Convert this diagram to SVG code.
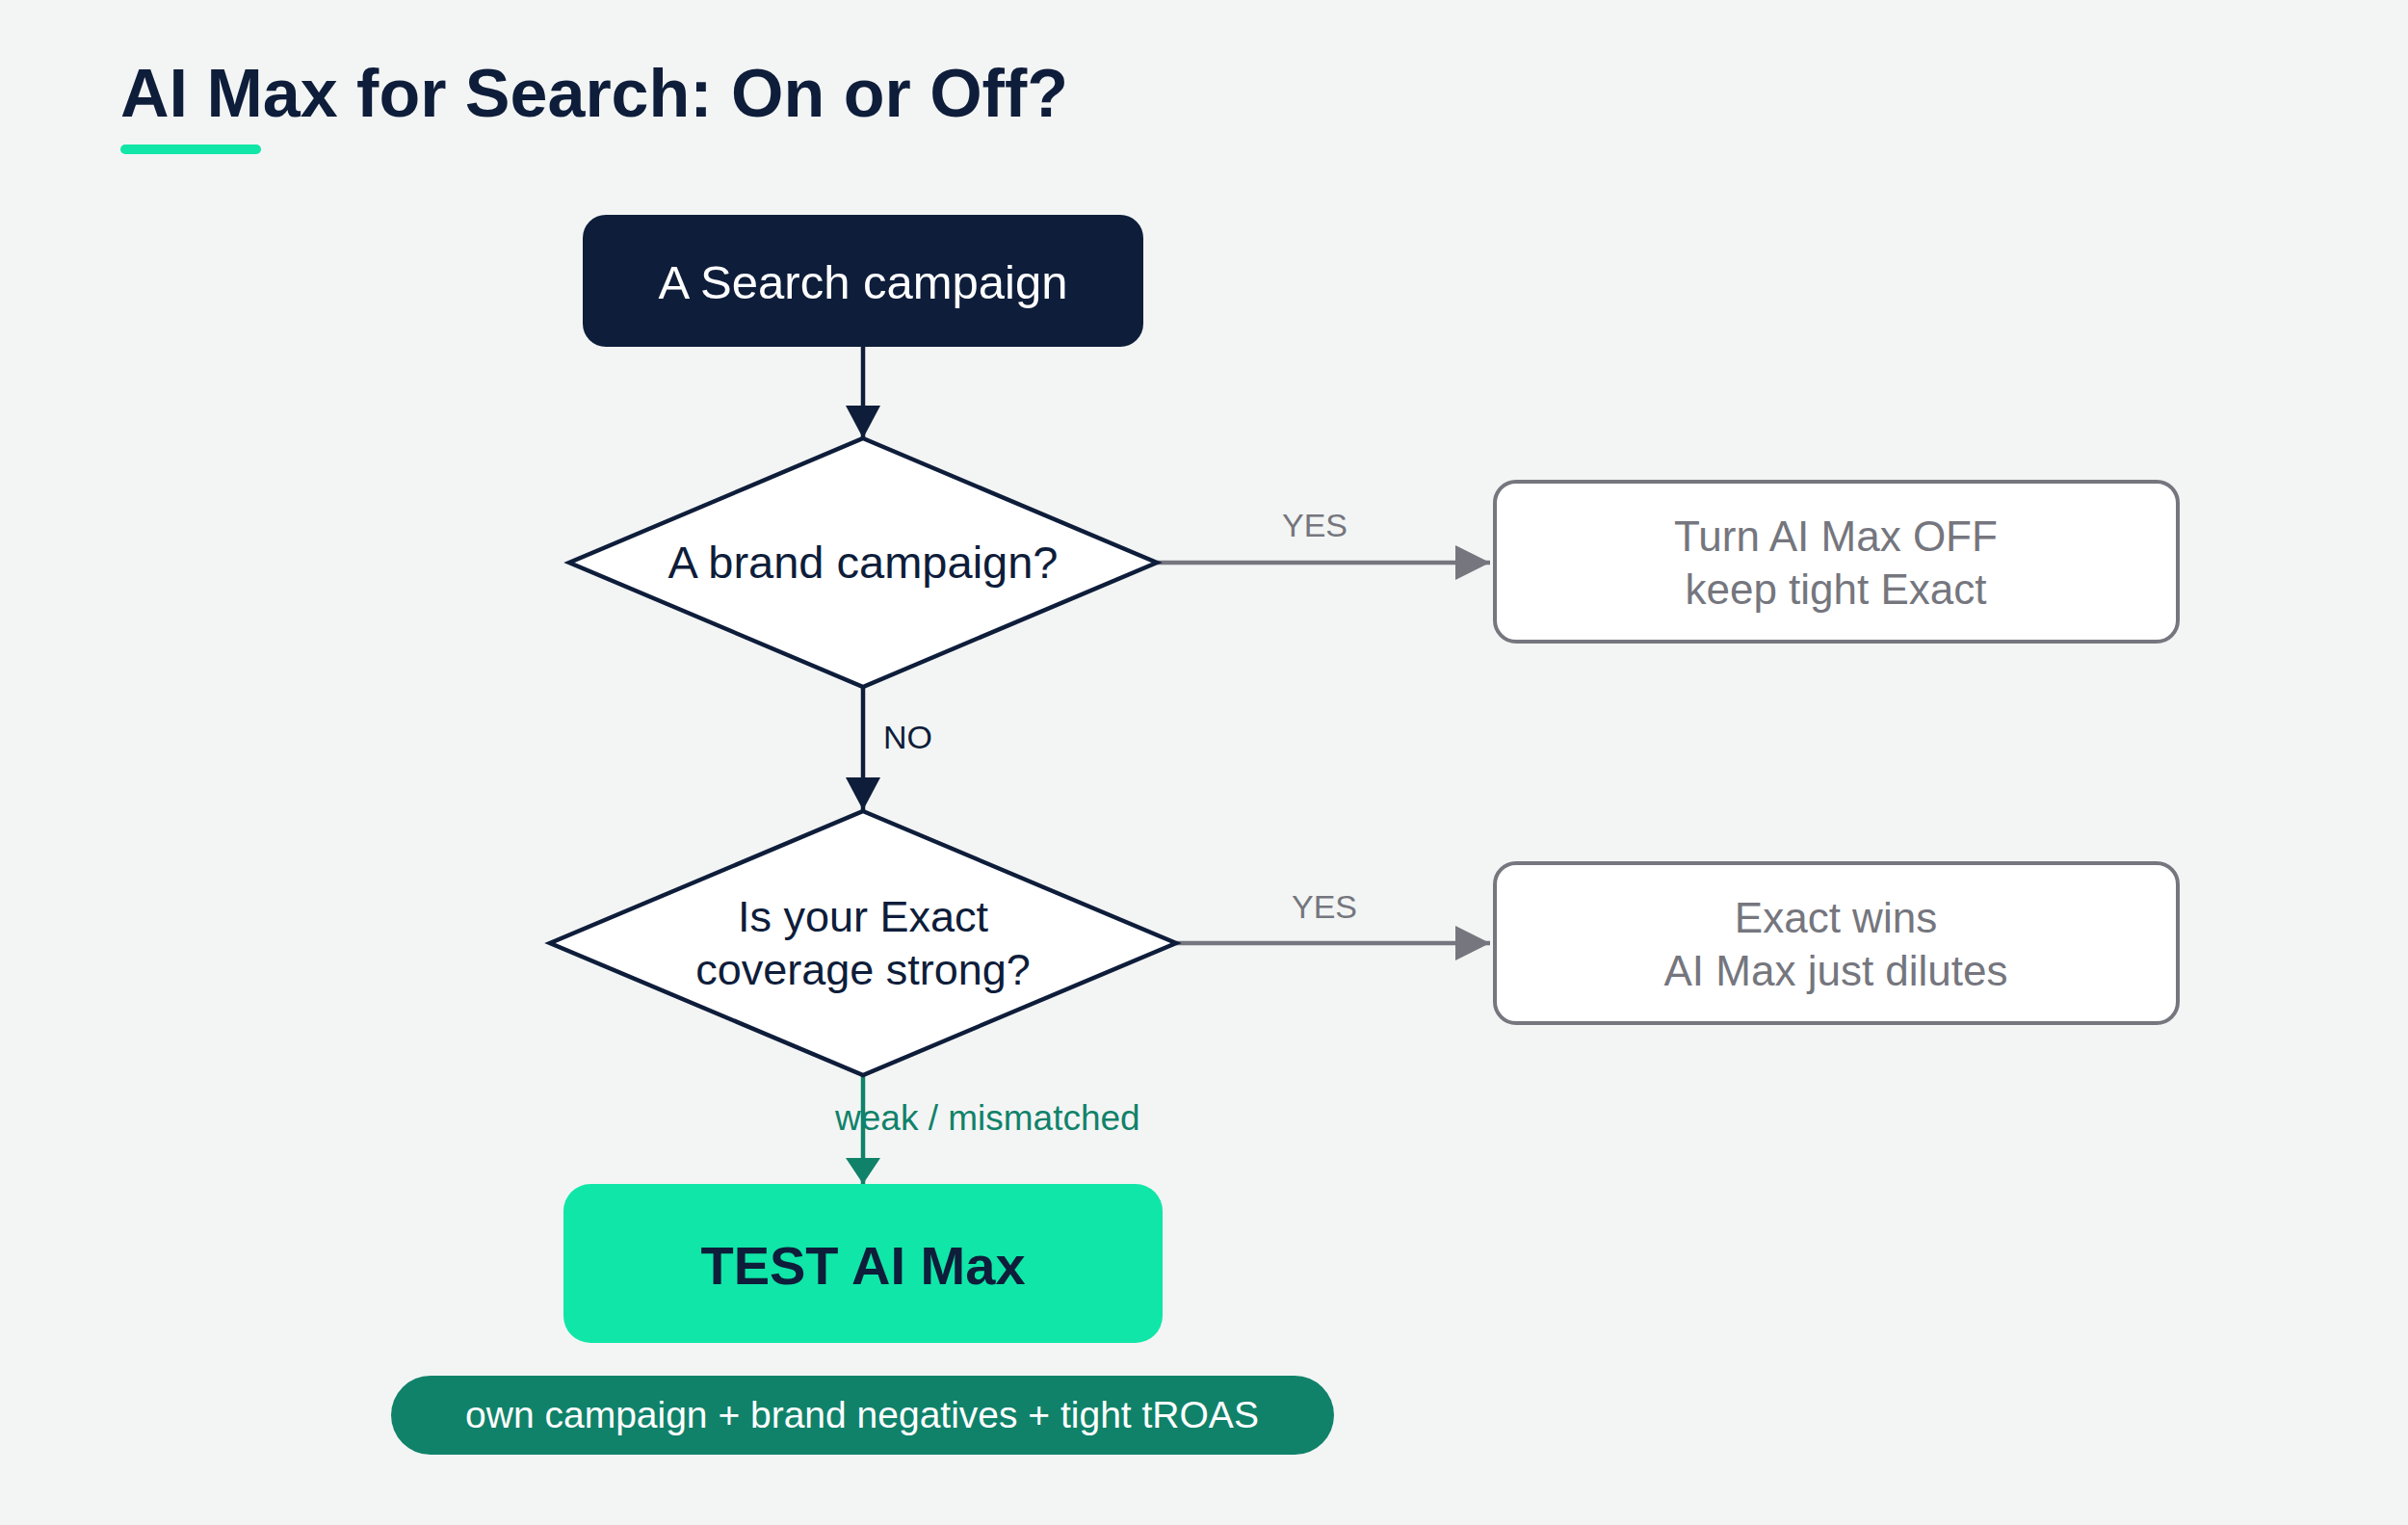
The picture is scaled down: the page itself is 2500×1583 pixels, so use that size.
<svg xmlns="http://www.w3.org/2000/svg" width="2500" height="1583" viewBox="0 0 2500 1583">
  <style>
    text { font-family: "Liberation Sans", Arial, Helvetica, sans-serif; }
    .navy { fill: #0e1d3a; }
    .gray { fill: #75767e; }
    .dia { fill: #ffffff; stroke: #0e1d3a; stroke-width: 4.5; stroke-linejoin: miter; }
    .out { fill: #ffffff; stroke: #75767e; stroke-width: 4; }
    .c-navy { stroke: #0e1d3a; stroke-width: 4.5; fill: none; }
    .c-gray { stroke: #75767e; stroke-width: 4.5; fill: none; }
    .c-green { stroke: #10826a; stroke-width: 4.5; fill: none; }
  </style>
  <defs>
    <marker id="ah-navy" markerUnits="userSpaceOnUse" markerWidth="36" markerHeight="36" refX="34" refY="18" orient="auto">
      <path d="M0,0 L34,18 L0,36 Z" fill="#0e1d3a"/>
    </marker>
    <marker id="ah-gray" markerUnits="userSpaceOnUse" markerWidth="36" markerHeight="36" refX="36" refY="18" orient="auto">
      <path d="M0,0 L36,18 L0,36 Z" fill="#75767e"/>
    </marker>
    <marker id="ah-green" markerUnits="userSpaceOnUse" markerWidth="36" markerHeight="36" refX="27" refY="18" orient="auto">
      <path d="M0,0 L27,18 L0,36 Z" fill="#10826a"/>
    </marker>
  </defs>

  <rect x="0" y="0" width="2500" height="1583" fill="#f3f5f4"/>

  <g id="title">
    <text x="125" y="121" font-size="70" font-weight="bold" class="navy">AI Max for Search: On or Off?</text>
    <rect x="125" y="150" width="146" height="10" rx="5" fill="#10e6a8"/>
  </g>

  <g id="connectors">
    <line x1="896" y1="360" x2="896" y2="455" class="c-navy" marker-end="url(#ah-navy)"/>
    <line x1="1201" y1="584" x2="1547" y2="584" class="c-gray" marker-end="url(#ah-gray)"/>
    <text x="1365" y="557" font-size="34" text-anchor="middle" class="gray">YES</text>
    <line x1="896" y1="713" x2="896" y2="841" class="c-navy" marker-end="url(#ah-navy)"/>
    <text x="917" y="777" font-size="34" class="navy">NO</text>
    <line x1="1221" y1="979" x2="1547" y2="979" class="c-gray" marker-end="url(#ah-gray)"/>
    <text x="1375" y="953" font-size="34" text-anchor="middle" class="gray">YES</text>
    <line x1="896" y1="1116" x2="896" y2="1229" class="c-green" marker-end="url(#ah-green)"/>
    <text x="867" y="1173" font-size="37" fill="#10826a">weak / mismatched</text>
  </g>

  <g id="start">
    <rect x="605" y="223" width="582" height="137" rx="24" fill="#0e1d3a"/>
    <text x="896" y="310" font-size="49" text-anchor="middle" fill="#ffffff">A Search campaign</text>
  </g>

  <g id="brand-decision">
    <polygon points="896,455 1201,584 896,713 591,584" class="dia"/>
    <text x="896" y="600" font-size="47" text-anchor="middle" class="navy">A brand campaign?</text>
  </g>

  <g id="turn-off">
    <rect x="1552" y="500" width="709" height="166" rx="22" class="out"/>
    <text x="1906" y="572" font-size="44" text-anchor="middle" class="gray">Turn AI Max OFF</text>
    <text x="1906" y="627" font-size="44" text-anchor="middle" class="gray">keep tight Exact</text>
  </g>

  <g id="coverage-decision">
    <polygon points="896,842 1221,979 896,1116 571,979" class="dia"/>
    <text x="896" y="967" font-size="45" text-anchor="middle" class="navy">Is your Exact</text>
    <text x="896" y="1022" font-size="45" text-anchor="middle" class="navy">coverage strong?</text>
  </g>

  <g id="exact-wins">
    <rect x="1552" y="896" width="709" height="166" rx="22" class="out"/>
    <text x="1906" y="968" font-size="44" text-anchor="middle" class="gray">Exact wins</text>
    <text x="1906" y="1023" font-size="44" text-anchor="middle" class="gray">AI Max just dilutes</text>
  </g>

  <g id="test-ai-max">
    <rect x="585" y="1229" width="622" height="165" rx="28" fill="#10e6a8"/>
    <text x="896" y="1333" font-size="56" font-weight="bold" text-anchor="middle" class="navy">TEST AI Max</text>
  </g>

  <g id="test-note">
    <rect x="406" y="1428" width="979" height="82" rx="41" fill="#10826a"/>
    <text x="895" y="1482" font-size="39" text-anchor="middle" fill="#ffffff">own campaign + brand negatives + tight tROAS</text>
  </g>
</svg>
